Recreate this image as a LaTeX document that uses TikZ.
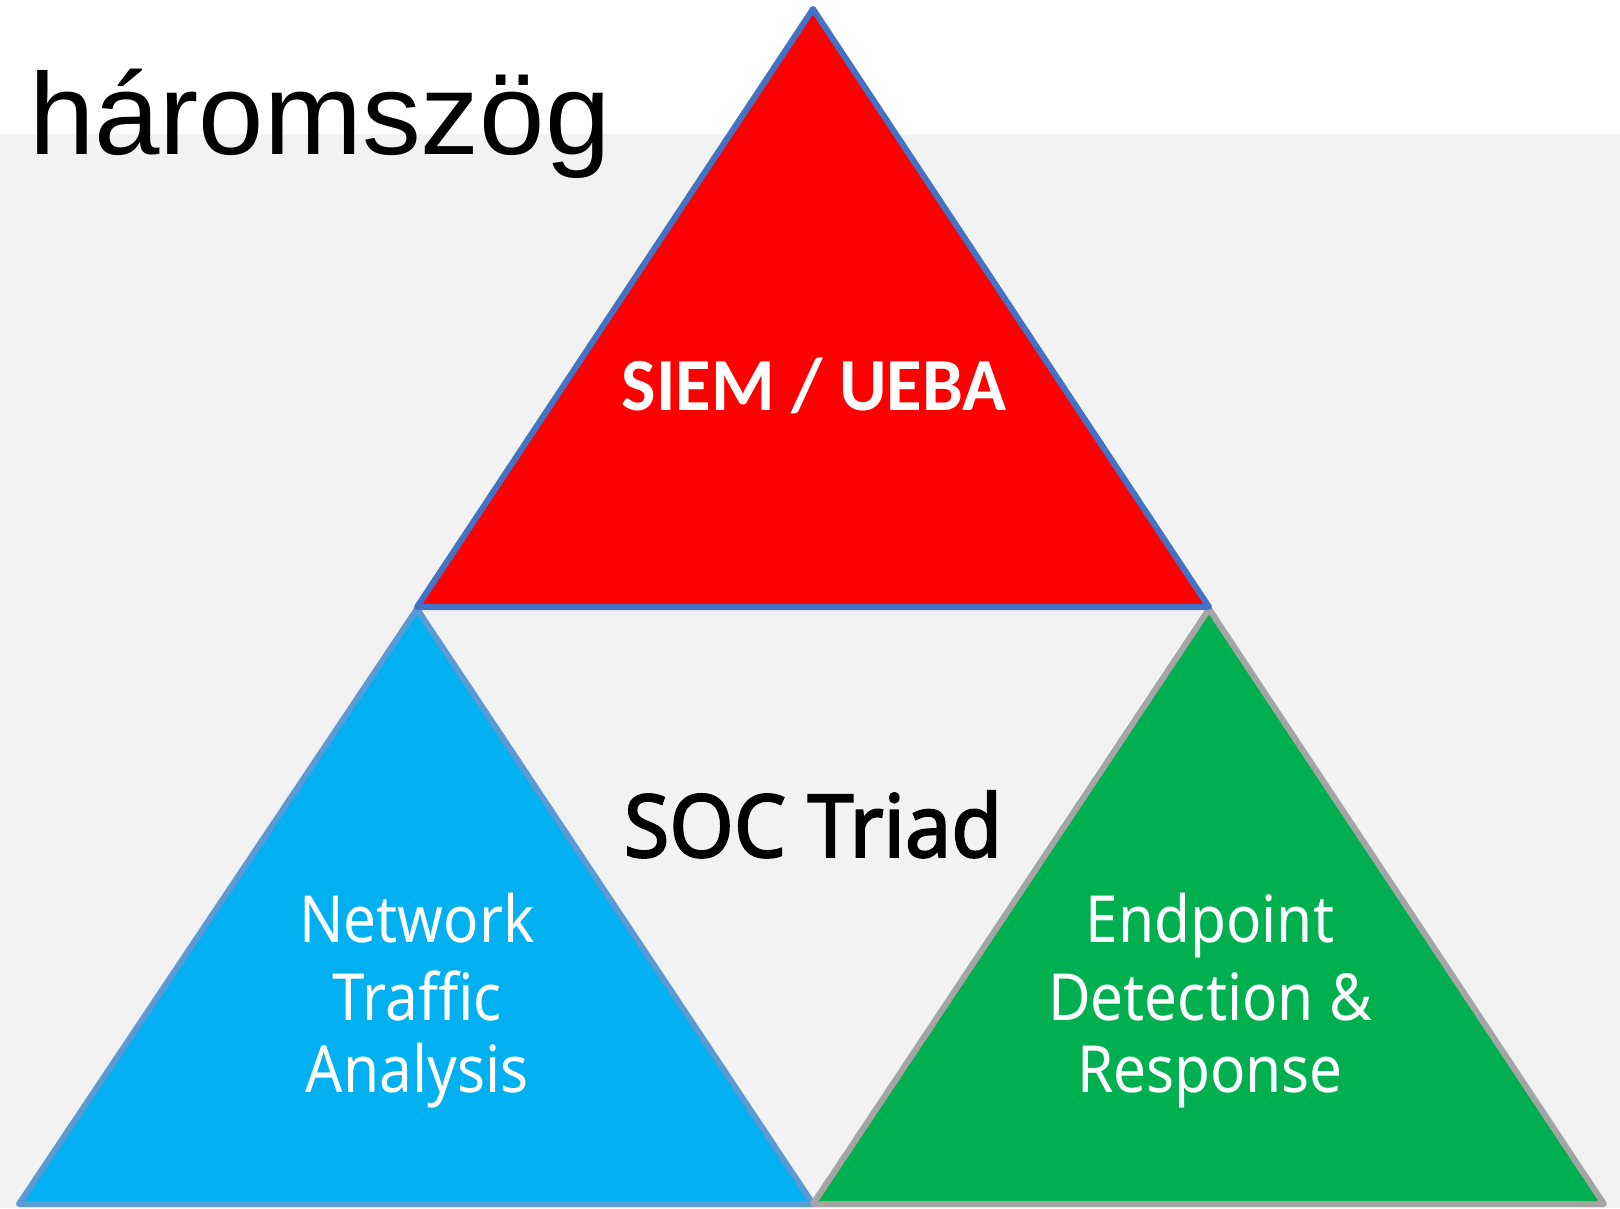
\documentclass[tikz,border=0pt]{standalone}
\usepackage{fontspec}
\setmainfont{Liberation Sans}
\newfontfamily\titlefont{Liberation Sans}[FakeStretch=1.013]
\newfontfamily\headfont{Carlito}[FakeStretch=0.97]
\newfontfamily\labelfont{Noto Sans}[FakeStretch=0.9]
\newfontfamily\socfont{Noto Sans}[FakeBold=2.2, FakeStretch=0.95]
\definecolor{bggray}{HTML}{F2F2F2}
\definecolor{siemred}{HTML}{FF0000}
\definecolor{siemedge}{HTML}{4472C4}
\definecolor{ntafill}{HTML}{00B0F0}
\definecolor{ntaedge}{HTML}{5B9BD5}
\definecolor{edrfill}{HTML}{00B050}
\definecolor{edredge}{HTML}{A5A5A5}
\tikzset{
  tri/.style={line width=6pt, line join=round},
  whitelabel/.style={text=white, inner sep=0pt, anchor=base,
    font=\labelfont\fontsize{65}{75}\selectfont},
}
\begin{document}
\begin{tikzpicture}[x=1pt, y=-1pt]
\useasboundingbox (0,0) rectangle (1620,1208);
% page background: white header strip, light gray body
\fill[white] (0,0) rectangle (1620,1208);
\fill[bggray] (0,134) rectangle (1620,1208);

% triangle corners
\coordinate (top) at (813,9);
\coordinate (redL) at (417,607);
\coordinate (redR) at (1209,607);
\coordinate (blueT) at (417,609);
\coordinate (blueL) at (19,1204);
\coordinate (mid) at (813,1204);
\coordinate (greenT) at (1209,609);
\coordinate (greenR) at (1604,1204);

% lower triangles
\filldraw[tri, fill=ntafill, draw=ntaedge] (blueT) -- (blueL) -- (mid) -- cycle;
\filldraw[tri, fill=edrfill, draw=edredge] (greenT) -- (mid) -- (greenR) -- cycle;
% upper triangle
\filldraw[tri, fill=siemred, draw=siemedge] (top) -- (redL) -- (redR) -- cycle;

% title (precomposed accented letters)
\node[anchor=base west, inner sep=0pt, font=\titlefont\fontsize{116}{120}\selectfont]
  (title) at (29,154) {h\char"00E1 romsz\char"00F6 g};

% labels
\node[inner sep=0pt, anchor=base, text=white,
  font=\headfont\bfseries\fontsize{75}{80}\selectfont] (siem) at (814,410) {SIEM / UEBA};
\node[inner sep=0pt, anchor=base,
  font=\socfont\fontsize{87}{90}\selectfont] (soc) at (813,857) {SOC Triad};

\node[whitelabel] (nta1) at (417,942) {Network};
\node[whitelabel] (nta2) at (417,1020) {Traffic};
\node[whitelabel] (nta3) at (417,1092) {Analysis};

\node[whitelabel] (edr1) at (1210,942) {Endpoint};
\node[whitelabel] (edr2) at (1210,1020) {Detection \&};
\node[whitelabel] (edr3) at (1210,1092) {Response};
\end{tikzpicture}
\end{document}
